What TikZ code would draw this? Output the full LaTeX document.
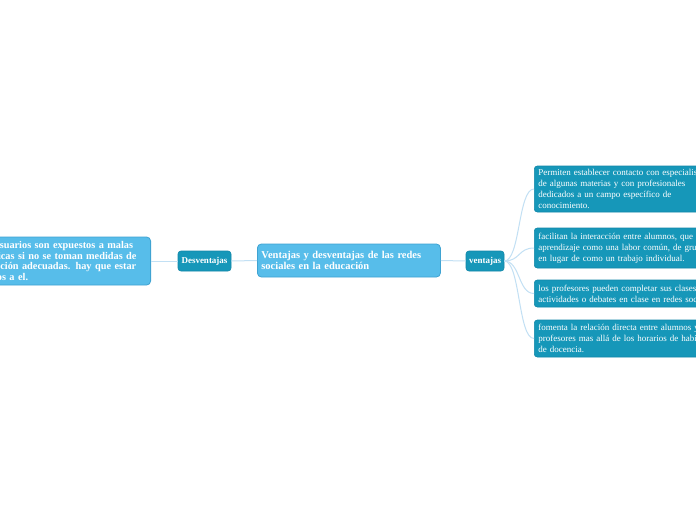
\documentclass[tikz,border=0pt]{standalone}
\usepackage{fontspec}
\setmainfont{Liberation Serif}
\begin{document}
\begin{tikzpicture}[x=1pt,y=-1pt,
  light/.style={draw=lightborder,fill=lightfill,rounded corners=4pt,line width=0.8pt,text=white,align=left,inner xsep=4pt,inner ysep=0pt},
  dark/.style={draw=darkborder,fill=darkfill,rounded corners=3pt,line width=0.6pt,text=white,font=\bfseries\fontsize{9}{10}\selectfont,inner xsep=3pt,inner ysep=0pt,minimum height=20pt},
  leaf/.style={draw=darkborder,fill=darkfill,rounded corners=3pt,line width=0.6pt,text=white,font=\fontsize{9}{10.8}\selectfont,align=left,inner xsep=4pt,inner ysep=0pt,anchor=west,minimum width=240pt,text width=232pt},
  conn/.style={draw=connc,line width=1pt}]
\definecolor{lightfill}{HTML}{57BDEA}
\definecolor{lightborder}{HTML}{3FA3D2}
\definecolor{darkfill}{HTML}{1697B9}
\definecolor{darkborder}{HTML}{1187A8}
\definecolor{connc}{HTML}{C2E0F4}
\useasboundingbox (0,0) rectangle (696,520);
\clip (0,0) rectangle (696,520);
\fill[white] (0,0) rectangle (696,520);

\node[light,anchor=east,minimum width=180pt,minimum height=48pt,text width=172pt,font=\bfseries\fontsize{10.3}{10.4}\selectfont] (left) at (151,261)
  {Los usuarios son expuestos a malas\\prácticas si no se toman medidas de\\educación adecuadas. hay que estar\\atentos a el.};
\node[dark,minimum width=53pt] (desv) at (204.5,261) {Desventajas};
\node[light,anchor=west,minimum width=183pt,minimum height=33pt,text width=175pt,font=\bfseries\fontsize{10.5}{11}\selectfont] (center) at (257,260.5)
  {Ventajas y desventajas de las redes\\sociales en la educación};
\node[dark,minimum width=38pt] (vent) at (485,261) {ventajas};

\node[leaf,minimum height=46pt] (r1) at (534,189)
  {Permiten establecer contacto con especialistas\\de algunas materias y con profesionales\\dedicados a un campo específico de\\conocimiento.};
\node[leaf,minimum height=40pt] (r2) at (534,248)
  {facilitan la interacción entre alumnos, que ven el\\aprendizaje como una labor común, de grupo,\\en lugar de como un trabajo individual.};
\node[leaf,minimum height=27pt] (r3) at (534,293.5)
  {los profesores pueden completar sus clases con\\actividades o debates en clase en redes sociales};
\node[leaf,minimum height=37pt] (r4) at (534,338.5)
  {fomenta la relación directa entre alumnos y\\profesores mas allá de los horarios de habitual\\de docencia.};

\draw[conn] (left.east) -- (desv.west);
\draw[conn] (desv.east) -- (center.west);
\draw[conn] (center.east) -- (vent.west);
\foreach \r in {r1,r2,r3,r4}{
  \draw[conn] (vent.east) .. controls ([xshift=16pt]vent.east) and ([xshift=-16pt]\r.west) .. (\r.west);
}
\end{tikzpicture}
\end{document}
